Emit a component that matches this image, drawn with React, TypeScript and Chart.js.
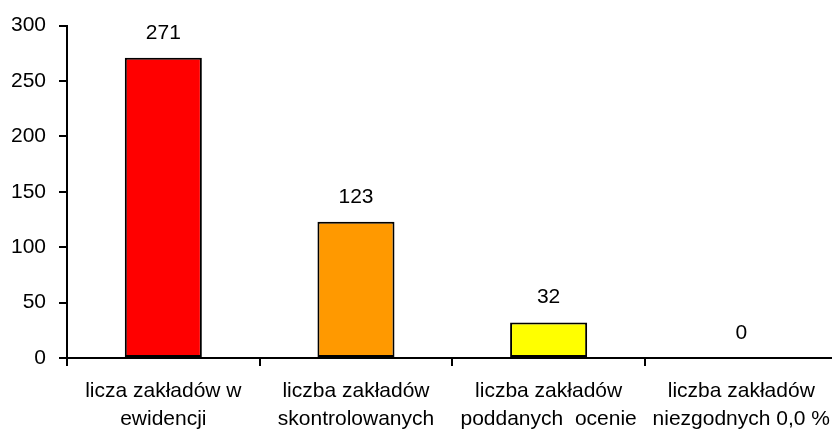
import React, { useEffect, useRef } from "react";
import { Chart, registerables } from "chart.js";

Chart.register(...registerables);

const categories: string[][] = [
  ["licza zakładów w", "ewidencji"],
  ["liczba zakładów", "skontrolowanych"],
  ["liczba zakładów", "poddanych  ocenie"],
  ["liczba zakładów", "niezgodnych 0,0 %"],
];
const values: number[] = [271, 123, 32, 0];
const barColors: string[] = ["#FF0000", "#FF9900", "#FFFF00", "#FFFFFF"];
const yTicks: number[] = [0, 50, 100, 150, 200, 250, 300];

const FONT = "'Liberation Sans', Arial, sans-serif";

const valueLabels = {
  id: "valueLabels",
  afterDatasetsDraw(chart: any) {
    const ctx = chart.ctx;
    const meta = chart.getDatasetMeta(0);
    ctx.save();
    ctx.font = `21px ${FONT}`;
    ctx.fillStyle = "#000";
    ctx.textAlign = "center";
    ctx.textBaseline = "middle";
    meta.data.forEach((bar: any, i: number) => {
      ctx.fillText(String(values[i]), bar.x, bar.y - 25);
    });
    ctx.restore();
  },
};

export default function App() {
  const ref = useRef<HTMLCanvasElement | null>(null);
  useEffect(() => {
    if (!ref.current) return;
    const chart = new Chart(ref.current, {
      type: "bar",
      data: {
        labels: categories,
        datasets: [
          {
            data: values,
            backgroundColor: barColors,
            borderColor: "#000",
            borderWidth: values.map((v) => (v === 0 ? 0 : 2)),
            borderSkipped: false,
            categoryPercentage: 1,
            barPercentage: 0.4,
          },
        ],
      },
      options: {
        responsive: false,
        animation: false,
        devicePixelRatio: 1,
        layout: { padding: { top: 25, left: 0, right: 0, bottom: 0 } },
        plugins: { legend: { display: false }, tooltip: { enabled: false } },
        scales: {
          x: {
            grid: {
              offset: true,
              drawOnChartArea: false,
              drawTicks: true,
              tickLength: 8,
              color: "#000",
              lineWidth: 2,
            },
            border: { display: true, color: "#000", width: 2 },
            ticks: {
              color: "#000",
              font: { family: FONT, size: 21, lineHeight: 1.3 },
              padding: 12,
              maxRotation: 0,
              autoSkip: false,
            },
            afterFit: (s: any) => {
              s.height = 78;
            },
          },
          y: {
            min: 0,
            max: 300,
            afterBuildTicks: (s: any) => {
              s.ticks = yTicks.map((v) => ({ value: v }));
            },
            grid: {
              drawOnChartArea: false,
              drawTicks: true,
              tickLength: 8,
              color: "#000",
              lineWidth: 2,
            },
            border: { display: true, color: "#000", width: 2 },
            ticks: {
              color: "#000",
              font: { family: FONT, size: 21 },
              padding: 13,
            },
            afterFit: (s: any) => {
              s.width = 67;
            },
          },
        },
      },
      plugins: [valueLabels],
    });
    return () => chart.destroy();
  }, []);
  return (
    <div
      style={{
        position: "fixed",
        left: 0,
        top: 0,
        width: 832,
        height: 436,
        overflow: "hidden",
        background: "#fff",
      }}
    >
      <canvas ref={ref} width={842} height={436} style={{ display: "block" }} />
    </div>
  );
}
